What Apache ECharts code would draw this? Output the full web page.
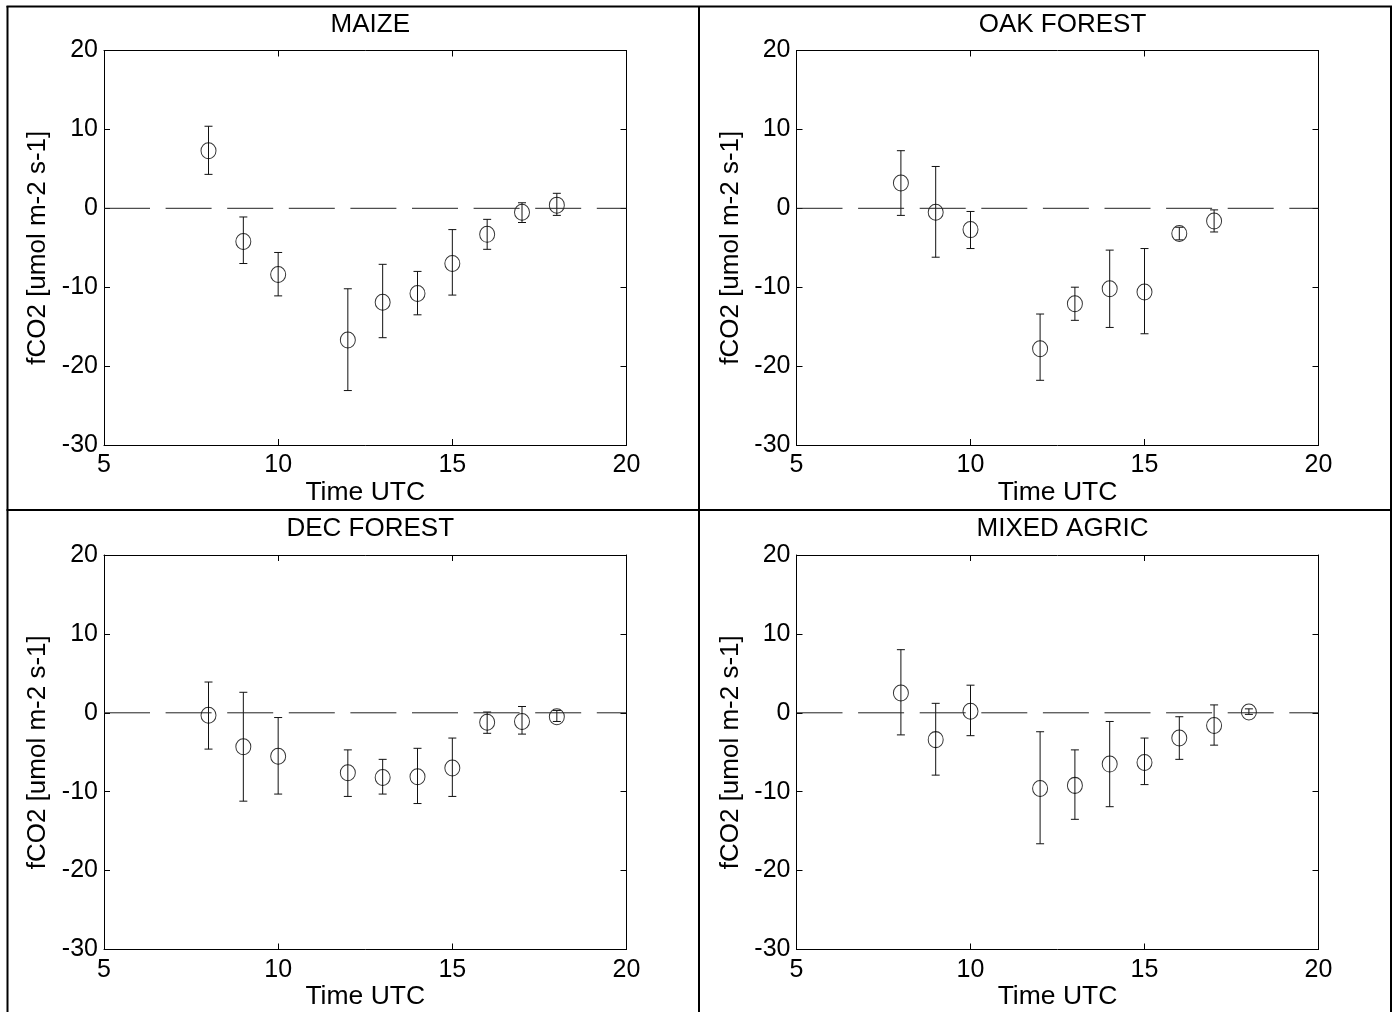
<!DOCTYPE html>
<html>
<head>
<meta charset="utf-8">
<script src="https://cdn.jsdelivr.net/npm/echarts@6/dist/echarts.min.js"></script>
<style>
html,body{margin:0;padding:0;background:#fff;}
#chart{width:1398px;height:1012px;}
</style>
</head>
<body>
<div id="chart"></div>
<script>
// ---- Data ----
const panelTitles = ['MAIZE', 'OAK FOREST', 'DEC FOREST', 'MIXED AGRIC'];
const xTicks = [5, 10, 15, 20];
const yTicks = [-30, -20, -10, 0, 10, 20];
const xAxisName = 'Time UTC';
const yAxisName = 'fCO2 [umol m-2 s-1]';

const maizeX    = [8, 9, 10, 12, 13, 14, 15, 16, 17, 18];
const maizeY    = [7.3, -4.2, -8.4, -16.7, -11.9, -10.8, -7.0, -3.3, -0.5, 0.4];
const maizeLow  = [4.3, -7.0, -11.1, -23.1, -16.4, -13.5, -11.0, -5.2, -1.8, -0.9];
const maizeHigh = [10.4, -1.1, -5.6, -10.2, -7.1, -8.0, -2.7, -1.4, 0.7, 1.9];

const oakX    = [8, 9, 10, 12, 13, 14, 15, 16, 17];
const oakY    = [3.2, -0.5, -2.7, -17.8, -12.1, -10.2, -10.6, -3.2, -1.6];
const oakLow  = [-0.9, -6.2, -5.1, -21.8, -14.2, -15.1, -15.9, -4.0, -3.0];
const oakHigh = [7.3, 5.3, -0.4, -13.4, -10.0, -5.3, -5.1, -2.4, -0.2];

const decX    = [8, 9, 10, 12, 13, 14, 15, 16, 17, 18];
const decY    = [-0.3, -4.3, -5.5, -7.6, -8.2, -8.1, -7.0, -1.2, -1.1, -0.5];
const decLow  = [-4.6, -11.2, -10.3, -10.6, -10.3, -11.5, -10.6, -2.6, -2.7, -1.1];
const decHigh = [3.9, 2.6, -0.6, -4.7, -5.9, -4.5, -3.2, 0.1, 0.8, 0.3];

const agrX    = [8, 9, 10, 12, 13, 14, 15, 16, 17, 18];
const agrY    = [2.5, -3.4, 0.2, -9.6, -9.2, -6.5, -6.3, -3.2, -1.6, 0.1];
const agrLow  = [-2.8, -7.9, -2.9, -16.6, -13.5, -11.9, -9.1, -5.9, -4.1, -0.2];
const agrHigh = [8.0, 1.2, 3.5, -2.4, -4.7, -1.1, -3.2, -0.5, 1.0, 0.5];

const zeroLineX = [5, 20];
const zeroLineY = [0, 0];

// ---- Build chart ----
const panels = [
  {x: maizeX, y: maizeY, lo: maizeLow, hi: maizeHigh},
  {x: oakX, y: oakY, lo: oakLow, hi: oakHigh},
  {x: decX, y: decY, lo: decLow, hi: decHigh},
  {x: agrX, y: agrY, lo: agrLow, hi: agrHigh}
];

const gridPos = [
  {left: 104, top: 50.5, width: 522.5, height: 394.5, titleTop: 7},
  {left: 796.5, top: 50.5, width: 522, height: 394.5, titleTop: 7},
  {left: 104, top: 555, width: 522.5, height: 394.5, titleTop: 511},
  {left: 796.5, top: 555, width: 522, height: 394.5, titleTop: 511}
];

const FONT = 'Liberation Sans, Arial, Helvetica, sans-serif';
const INK = '#000';

const grids = [], xAxes = [], yAxes = [], series = [], titles = [];

function errRender(params, api) {
  const x = api.value(0), lo = api.value(2), hi = api.value(3);
  const pLo = api.coord([x, lo]);
  const pHi = api.coord([x, hi]);
  const hw = 4;
  const st = {stroke: '#111', lineWidth: 1};
  return {
    type: 'group',
    children: [
      {type: 'line', shape: {x1: pLo[0], y1: pLo[1], x2: pHi[0], y2: pHi[1]}, style: st},
      {type: 'line', shape: {x1: pLo[0] - hw, y1: pLo[1], x2: pLo[0] + hw, y2: pLo[1]}, style: st},
      {type: 'line', shape: {x1: pHi[0] - hw, y1: pHi[1], x2: pHi[0] + hw, y2: pHi[1]}, style: st}
    ]
  };
}

panels.forEach((p, i) => {
  const g = gridPos[i];
  grids.push({left: g.left, top: g.top, width: g.width, height: g.height, containLabel: false});
  titles.push({
    text: panelTitles[i],
    left: g.left + g.width / 2,
    top: g.titleTop,
    textAlign: 'center',
    textStyle: {fontFamily: FONT, fontSize: 26, fontWeight: 'normal', color: INK}
  });
  const axisCommon = {
    type: 'value', gridIndex: i,
    axisLine: {show: true, onZero: false, lineStyle: {color: INK, width: 1}},
    axisTick: {show: true, inside: true, length: 6, lineStyle: {color: INK, width: 1}},
    splitLine: {show: false}
  };
  xAxes.push(Object.assign({}, axisCommon, {
    position: 'bottom', min: xTicks[0], max: xTicks[xTicks.length - 1], interval: xTicks[1] - xTicks[0],
    axisLabel: {show: true, fontFamily: FONT, fontSize: 25, color: INK, margin: 8},
    name: xAxisName, nameLocation: 'middle', nameGap: 34,
    nameTextStyle: {fontFamily: FONT, fontSize: 26.5, color: INK}
  }));
  xAxes.push(Object.assign({}, axisCommon, {
    position: 'top', min: xTicks[0], max: xTicks[xTicks.length - 1], interval: xTicks[1] - xTicks[0],
    axisLabel: {show: false}
  }));
  yAxes.push(Object.assign({}, axisCommon, {
    position: 'left', min: yTicks[0], max: yTicks[yTicks.length - 1], interval: yTicks[1] - yTicks[0],
    axisLabel: {show: true, fontFamily: FONT, fontSize: 25, color: INK, margin: 6},
    name: yAxisName, nameLocation: 'middle', nameGap: 53,
    nameTextStyle: {fontFamily: FONT, fontSize: 26, color: INK}
  }));
  yAxes.push(Object.assign({}, axisCommon, {
    position: 'right', min: yTicks[0], max: yTicks[yTicks.length - 1], interval: yTicks[1] - yTicks[0],
    axisLabel: {show: false}
  }));

  series.push({
    type: 'line', xAxisIndex: 2 * i, yAxisIndex: 2 * i,
    data: zeroLineX.map((v, k) => [v, zeroLineY[k]]),
    symbol: 'none', silent: true, animation: false,
    lineStyle: {color: '#222', width: 1, type: [46, 15.6]}
  });
  series.push({
    type: 'custom', xAxisIndex: 2 * i, yAxisIndex: 2 * i,
    renderItem: errRender, animation: false, silent: true,
    data: p.x.map((v, k) => [v, p.y[k], p.lo[k], p.hi[k]])
  });
  series.push({
    type: 'scatter', xAxisIndex: 2 * i, yAxisIndex: 2 * i,
    symbol: 'circle', symbolSize: [15, 16], animation: false,
    itemStyle: {color: 'rgba(0,0,0,0)', borderColor: INK, borderWidth: 1},
    data: p.x.map((v, k) => [v, p.y[k]])
  });
});

const chart = echarts.init(document.getElementById('chart'), null, {renderer: 'canvas'});
chart.setOption({
  backgroundColor: '#fff',
  animation: false,
  title: titles,
  grid: grids,
  xAxis: xAxes,
  yAxis: yAxes,
  series: series,
  graphic: [
    {type: 'line', shape: {x1: 7.5, y1: 6, x2: 7.5, y2: 1012}, style: {stroke: INK, lineWidth: 2}, silent: true},
    {type: 'line', shape: {x1: 6.5, y1: 6.5, x2: 1392, y2: 6.5}, style: {stroke: INK, lineWidth: 2}, silent: true},
    {type: 'line', shape: {x1: 1391, y1: 6, x2: 1391, y2: 1012}, style: {stroke: INK, lineWidth: 2}, silent: true},
    {type: 'line', shape: {x1: 699, y1: 6, x2: 699, y2: 1012}, style: {stroke: INK, lineWidth: 2}, silent: true},
    {type: 'line', shape: {x1: 6.5, y1: 510, x2: 1392, y2: 510}, style: {stroke: INK, lineWidth: 2}, silent: true}
  ]
});
</script>
</body>
</html>
